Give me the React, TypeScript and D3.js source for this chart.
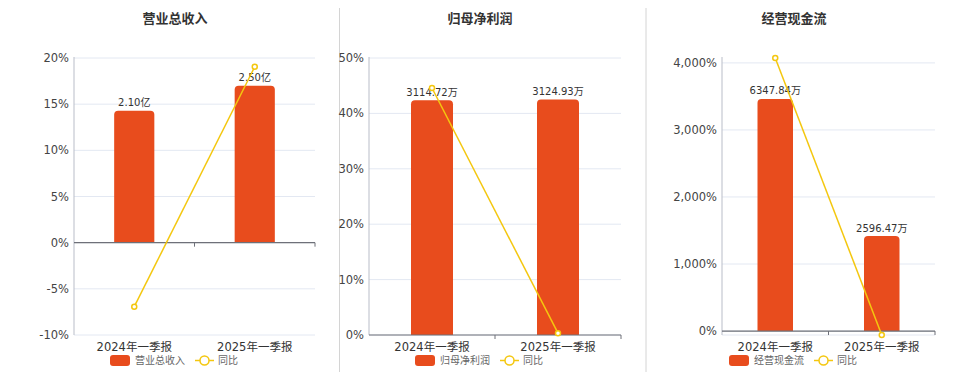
import React from "react";
import * as d3 from "d3";

// categories and values
const categories = ["2024年一季报", "2025年一季报"];

const titles = ["营业总收入", "归母净利润", "经营现金流"];
const barNames = ["营业总收入", "归母净利润", "经营现金流"];

const revenue = [2.10, 2.50];          // 亿
const revenueLabels = ["2.10亿", "2.50亿"];
const revenueYoY = [-6.93, 19.05];     // %

const netProfit = [3114.72, 3124.93];  // 万
const netProfitLabels = ["3114.72万", "3124.93万"];
const netProfitYoY = [44.58, 0.33];

const cashFlow = [6347.84, 2596.47];   // 万
const cashFlowLabels = ["6347.84万", "2596.47万"];
const cashFlowYoY = [4073, -59.1];

const ticks1 = [-10, -5, 0, 5, 10, 15, 20];
const ticks2 = [0, 10, 20, 30, 40, 50];
const ticks3 = [0, 1000, 2000, 3000, 4000];

const BAR = "#e84c1d";
const LINE = "#f4c70f";
const FONT = "'DejaVu Sans', 'Noto Sans CJK SC', sans-serif";

type PanelProps = {
    title: string
    barName: string
    bars: number[]
    labels: string[]
    yoy: number[]
    ticks: number[]
    domain: [number, number]
    left: number
    right: number
    center: number
    showBottomGrid?: boolean
}

const top = 58;
const bottom = 335;

function Panel(props: PanelProps) {
    const x = d3.scaleBand().domain(categories).range([props.left, props.right]).padding(0);
    const y = d3.scaleLinear().domain(props.domain).range([bottom, top]);
    const y0 = y(0);
    // bars use their own hidden axis, zero aligned with the percent axis
    const yb = d3.scaleLinear().domain([0, d3.max(props.bars)! / 0.85]).range([y0, top]);
    const fmt = (t: number) => (t < 0 ? "-" : "") + d3.format(",")(Math.abs(t)) + "%";
    const bw = x.bandwidth() / 3;
    const cx = (c: string) => x(c)! + x.bandwidth() / 2;
    const line = d3.line<number>().x((_, i) => cx(categories[i])).y(d => y(d));

    const barPath = (x0: number, yTop: number, w: number, yBase: number) => {
        const r = Math.min(4, (yBase - yTop) / 2);
        return `M${x0},${yBase}V${yTop + r}Q${x0},${yTop} ${x0 + r},${yTop}H${x0 + w - r}Q${x0 + w},${yTop} ${x0 + w},${yTop + r}V${yBase}Z`;
    };

    const c = props.center;
    return (
        <g fontFamily={FONT}>
            <text x={c} y={23} textAnchor="middle" fontSize={13} fontWeight="bold" fill="#333">{props.title}</text>
            {props.ticks.map(t => (
                <g key={t}>
                    <line x1={props.left} x2={props.right} y1={y(t)} y2={y(t)} stroke="#e3e8f2" />
                    <text x={props.left - 5} y={y(t)} dy="0.35em" textAnchor="end" fontSize={11.5} fill="#444">{fmt(t)}</text>
                </g>
            ))}
            {props.showBottomGrid && <line x1={props.left} x2={props.right} y1={bottom} y2={bottom} stroke="#e3e8f2" />}
            <line x1={props.left} x2={props.left} y1={top - 1} y2={bottom} stroke="#b9bdc8" />
            {categories.map((cat, i) => (
                <g key={cat}>
                    <path d={barPath(cx(cat) - bw / 2, yb(props.bars[i]), bw, y0)} fill={BAR} />
                    <text x={cx(cat)} y={yb(props.bars[i]) - 8} dy="0.35em" textAnchor="middle" fontSize={10} fill="#333">{props.labels[i]}</text>
                    <text x={cx(cat)} y={351} textAnchor="middle" fontSize={11.5} fill="#333">{cat}</text>
                </g>
            ))}
            <line x1={props.left} x2={props.right} y1={y0} y2={y0} stroke="#6e7079" strokeWidth={1.2} />
            {[x.bandwidth() + props.left, props.right].map(t => (
                <line key={t} x1={t} x2={t} y1={y0} y2={y0 + 4} stroke="#6e7079" />
            ))}
            <path d={line(props.yoy)!} fill="none" stroke={LINE} strokeWidth={1.5} />
            {props.yoy.map((v, i) => (
                <circle key={i} cx={cx(categories[i])} cy={y(v)} r={2.5} fill="#fff" stroke={LINE} strokeWidth={1.5} />
            ))}
            <rect x={c - 65} y={355} width={20} height={11} rx={3} fill={BAR} />
            <text x={c - 40} y={360.5} dy="0.35em" fontSize={10} fill="#666">{props.barName}</text>
            <line x1={c + 20} x2={c + 39} y1={360.5} y2={360.5} stroke={LINE} strokeWidth={1.5} />
            <circle cx={c + 29.5} cy={360.5} r={4.5} fill="#fff" stroke={LINE} strokeWidth={1.5} />
            <text x={c + 43} y={360.5} dy="0.35em" fontSize={10} fill="#666">同比</text>
        </g>
    );
}

export default function App() {
    return (
        <svg width={960} height={372} style={{ position: "absolute", left: 0, top: 0, background: "#fff" }}>
            <rect width={960} height={372} fill="#fff" />
            <line x1={339.5} x2={339.5} y1={8} y2={372} stroke="#d4d4d4" />
            <line x1={646} x2={646} y1={8} y2={372} stroke="#d4d4d4" />
            <Panel title={titles[0]} barName={barNames[0]} bars={revenue} labels={revenueLabels} yoy={revenueYoY}
                ticks={ticks1} domain={[-10, 20]} left={74} right={315} center={175} />
            <Panel title={titles[1]} barName={barNames[1]} bars={netProfit} labels={netProfitLabels} yoy={netProfitYoY}
                ticks={ticks2} domain={[0, 50]} left={369} right={621} center={480} />
            <Panel title={titles[2]} barName={barNames[2]} bars={cashFlow} labels={cashFlowLabels} yoy={cashFlowYoY}
                ticks={ticks3} domain={[d3.min(cashFlowYoY)!, d3.max(cashFlowYoY)!]} left={722} right={935} center={794} showBottomGrid />
        </svg>
    );
}
